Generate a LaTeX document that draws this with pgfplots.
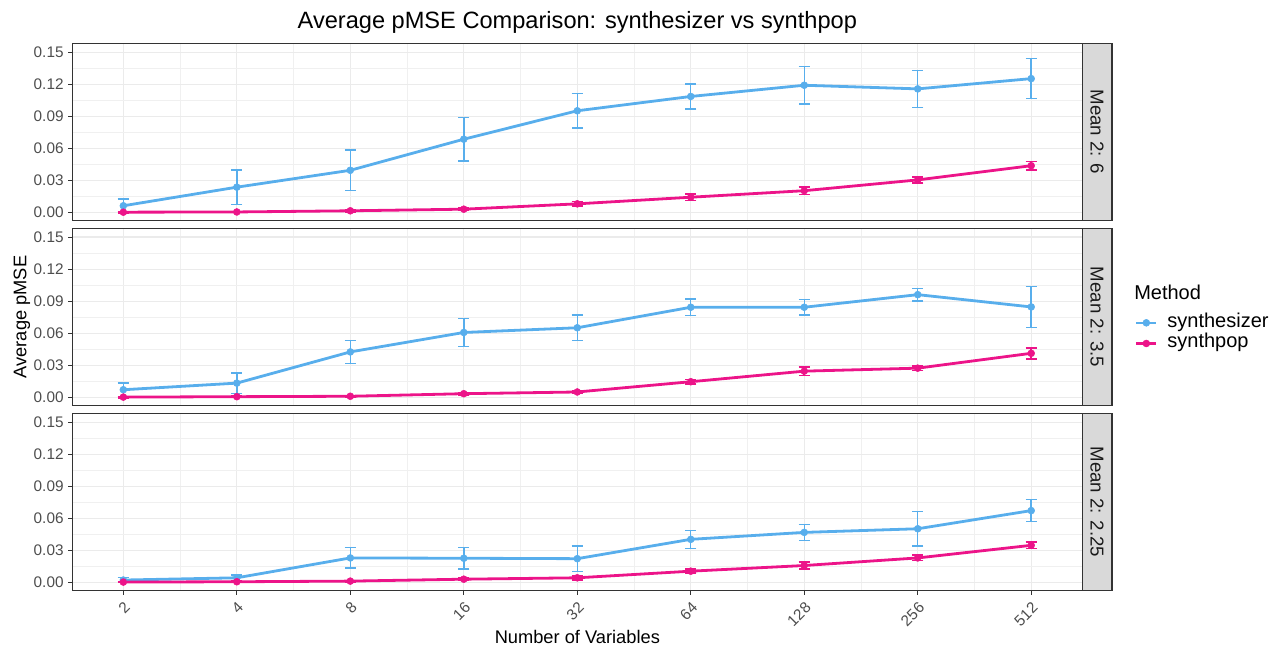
\documentclass[border=0pt]{standalone}
\usepackage{fontspec}
\setmainfont{Liberation Sans}
\usepackage{pgfplots}
\pgfplotsset{compat=1.18}
\usepackage{pgfplotstable}

\definecolor{synblue}{RGB}{88,174,236}
\definecolor{synpink}{RGB}{236,20,137}
\definecolor{grey92}{RGB}{235,235,235}
\definecolor{grey20}{RGB}{51,51,51}
\definecolor{grey30}{RGB}{77,77,77}
\definecolor{grey85}{RGB}{217,217,217}
\definecolor{grey10}{RGB}{26,26,26}

% Mean 2: 6
\pgfplotstableread{
x y e
1 0.0062 0.0065
2 0.0236 0.0162
3 0.0394 0.0189
4 0.0685 0.0205
5 0.0951 0.0160
6 0.1085 0.0118
7 0.1190 0.0174
8 0.1156 0.0172
9 0.1252 0.0188
}\synA
\pgfplotstableread{
x y e
1 0.0002 0.0005
2 0.0004 0.0005
3 0.0015 0.0008
4 0.0030 0.0012
5 0.0080 0.0022
6 0.0142 0.0030
7 0.0203 0.0035
8 0.0304 0.0030
9 0.0437 0.0040
}\popA
% Mean 2: 3.5
\pgfplotstableread{
x y e
1 0.0071 0.0062
2 0.0133 0.0096
3 0.0425 0.0108
4 0.0607 0.0133
5 0.0651 0.0120
6 0.0843 0.0078
7 0.0843 0.0072
8 0.0961 0.0058
9 0.0846 0.0192
}\synB
\pgfplotstableread{
x y e
1 0.0002 0.0005
2 0.0006 0.0005
3 0.0010 0.0006
4 0.0034 0.0012
5 0.0050 0.0015
6 0.0146 0.0020
7 0.0245 0.0040
8 0.0273 0.0022
9 0.0412 0.0050
}\popB
% Mean 2: 2.25
\pgfplotstableread{
x y e
1 0.0022 0.0025
2 0.0043 0.0025
3 0.0229 0.0096
4 0.0226 0.0102
5 0.0222 0.0118
6 0.0403 0.0084
7 0.0468 0.0076
8 0.0502 0.0163
9 0.0672 0.0104
}\synC
\pgfplotstableread{
x y e
1 0.0003 0.0005
2 0.0006 0.0005
3 0.0012 0.0006
4 0.0030 0.0010
5 0.0043 0.0018
6 0.0105 0.0020
7 0.0158 0.0030
8 0.0229 0.0025
9 0.0347 0.0030
}\popC

\pgfplotsset{
  panel/.style={
    scale only axis, width=757.5pt, height=133.1pt,
    xmin=0.55, xmax=9.45, ymin=-0.0078, ymax=0.1583,
    xtick={1,...,9}, minor xtick={1.5,2.5,...,8.5},
    ytick={0,0.03,0.06,0.09,0.12,0.15},
    minor ytick={0.015,0.045,0.075,0.105,0.135},
    grid=both,
    major grid style={grey92, line width=0.85pt},
    minor grid style={grey92!75!white, line width=0.45pt},
    axis line style={grey20, line width=0.8pt},
    tick align=outside, tick pos=left,
    major tick length=3pt, minor tick length=0pt,
    tick style={grey20, line width=0.8pt},
    /pgf/number format/assume math mode=true,
    yticklabel style={font=\fontsize{11.5}{12}\selectfont, text=grey30,
      /pgf/number format/.cd, fixed, fixed zerofill, precision=2},
    xticklabel style={font=\fontsize{11.5}{12}\selectfont, text=grey30,
      rotate=45, anchor=north east},
    scaled y ticks=false,
  },
  synline/.style={synblue, line width=2.1pt, mark=*, mark size=2.6pt,
    mark options={solid, line width=0.4pt},
    error bars/.cd, y dir=both, y explicit,
    error bar style={line width=1.1pt},
    error mark options={line width=1.1pt, mark size=4.2pt, rotate=90}},
  popline/.style={synpink, line width=2.1pt, mark=*, mark size=2.6pt,
    mark options={solid, line width=0.4pt},
    error bars/.cd, y dir=both, y explicit,
    error bar style={line width=1.3pt},
    error mark options={line width=1.3pt, mark size=4.2pt, rotate=90}},
  topless/.style={xticklabels={}, x tick style={draw=none}},
}

\newcommand\strip[2]{%
  \draw[fill=grey85, draw=grey20, line width=0.8pt]
    (#1.south east) rectangle ([xshift=22.3pt]#1.north east);
  \node[rotate=-90, font=\fontsize{14}{14}\selectfont, text=grey10]
    at ([xshift=11.15pt]#1.east) {#2};}

\begin{document}
\begin{tikzpicture}
\useasboundingbox (0,0) rectangle (966pt,486.75pt);

\begin{axis}[panel, topless, name=p1, at={(54.2pt,321.2pt)}, anchor=south west]
  \addplot[synline] table[x=x, y=y, y error=e] {\synA};
  \addplot[popline] table[x=x, y=y, y error=e] {\popA};
\end{axis}
\strip{p1}{Mean 2: 6}

\begin{axis}[panel, topless, name=p2, at={(54.2pt,182.5pt)}, anchor=south west,
  legend style={at={(1.0522,0.5265)}, anchor=north west, draw=none, fill=none,
    inner sep=0pt, font=\fontsize{15}{15.5}\selectfont, column sep=7.5pt,
    nodes={inner sep=0pt, text height=11pt, text depth=4.5pt}},
  legend cell align=left,
  legend image code/.code={\draw[mark repeat=2, mark phase=2, #1, line width=1.6pt]
    plot coordinates {(0pt,0pt) (7.5pt,0pt) (15pt,0pt)};}]
  \addplot[synline] table[x=x, y=y, y error=e] {\synB};
  \addlegendentry{synthesizer}
  \addplot[popline] table[x=x, y=y, y error=e] {\popB};
  \addlegendentry{synthpop}
\end{axis}
\strip{p2}{Mean 2: 3.5}

\begin{axis}[panel, name=p3, at={(54.2pt,43.7pt)}, anchor=south west,
  xticklabels={2,4,8,16,32,64,128,256,512}]
  \addplot[synline] table[x=x, y=y, y error=e] {\synC};
  \addplot[popline] table[x=x, y=y, y error=e] {\popC};
\end{axis}
\strip{p3}{Mean 2: 2.25}

\node[anchor=west, font=\fontsize{15}{15}\selectfont, inner sep=0pt]
  at (850.5pt,267.75pt) {Method};
\node[font=\fontsize{17.7}{20}\selectfont] at (433pt,470.25pt)
  {Average pMSE Comparison: synthesizer vs synthpop};
\node[font=\fontsize{13.7}{16}\selectfont] at (433pt,9pt) {Number of Variables};
\node[font=\fontsize{13.7}{16}\selectfont, rotate=90] at (16.5pt,249pt) {Average pMSE};
\end{tikzpicture}
\end{document}
